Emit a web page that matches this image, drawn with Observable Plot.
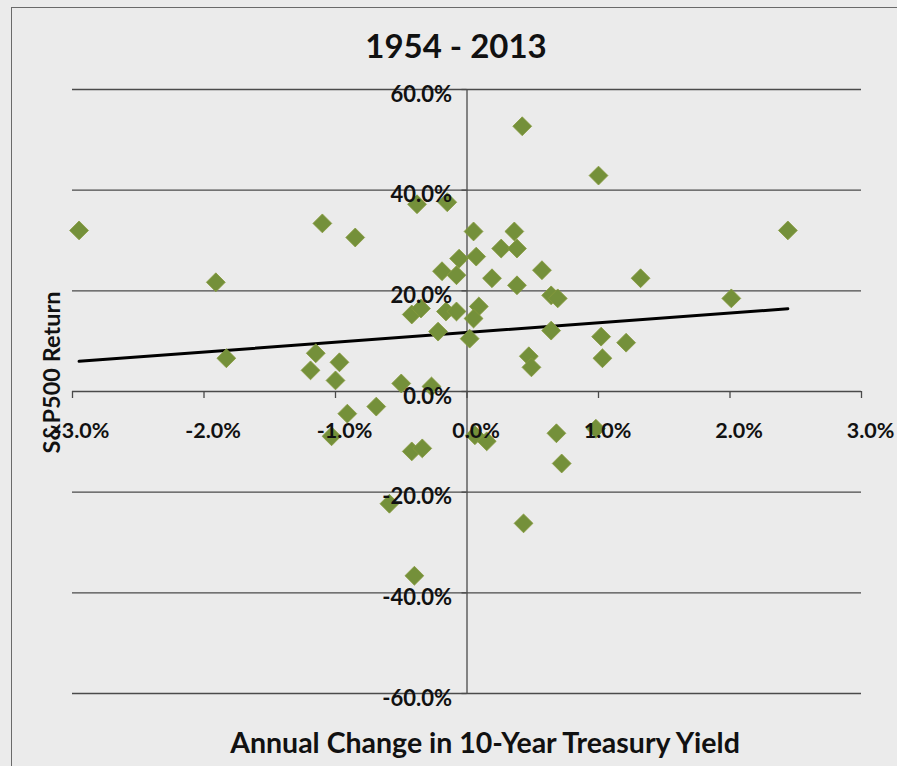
<!DOCTYPE html>
<html>
<head>
<meta charset="utf-8">
<script src="https://cdn.jsdelivr.net/npm/d3@7"></script>
<script src="https://cdn.jsdelivr.net/npm/@observablehq/plot@0.6"></script>
<style>
  html, body { margin: 0; padding: 0; background: #ebebeb; }
  #wrap { position: relative; width: 897px; height: 766px; overflow: hidden; background: #ebebeb; font-family: Lato, "Open Sans", sans-serif; }
  #border { position: absolute; left: 11px; top: 7px; width: 1000px; height: 1000px; border: 1.5px solid #6a6a6a; box-sizing: border-box; }
  #title { position: absolute; left: 0; width: 912px; top: 24px; text-align: center; font-weight: 700; font-size: 33px; color: #111; line-height: 42px; }
  #chart { position: absolute; left: 0; top: 70px; }
  #xtitle { position: absolute; left: 0; width: 970px; top: 724px; text-align: center; font-weight: 700; font-size: 28.5px; color: #111; line-height: 36px; }
</style>
</head>
<body>
<div id="wrap">
  <div id="border"></div>
  <div id="title"></div>
  <div id="chart"></div>
  <div id="xtitle"></div>
</div>
<script>
// Data (percent units)
const yieldChange = [
  -2.95, -1.91, -1.83, -1.10, -0.85, -1.15, -1.19, -0.97, -1.00, -0.91,
  -1.03, -0.69, -0.50, -0.59, -0.40, -0.42, -0.34, -0.38, -0.15, -0.42,
  -0.35, -0.16, -0.08, -0.22, 0.09, 0.05, 0.02, 0.19, 0.38, 0.57,
  0.64, 0.69, 0.64, 0.47, 0.49, -0.27, 0.06, 0.15, 0.68, 0.72,
  0.98, 0.43, 0.42, 0.05, 0.36, 0.26, 0.38, 0.07, -0.06, -0.19,
  -0.08, 1.00, 2.44, 1.32, 2.01, 1.02, 1.21, 1.03
];
const spReturn = [
  32.0, 21.7, 6.6, 33.4, 30.6, 7.6, 4.2, 5.8, 2.2, -4.4,
  -8.9, -3.0, 1.6, -22.3, -36.6, -11.9, -11.3, 37.2, 37.6, 15.3,
  16.5, 15.9, 15.9, 11.9, 16.9, 14.5, 10.5, 22.5, 21.1, 24.1,
  19.1, 18.5, 12.1, 7.0, 4.8, 1.0, -8.7, -9.9, -8.3, -14.3,
  -7.4, -26.2, 52.7, 31.8, 31.8, 28.4, 28.4, 26.8, 26.4, 23.9,
  23.1, 42.9, 32.0, 22.5, 18.5, 10.9, 9.7, 6.6
];
const xTicks = [-3, -2, -1, 0, 1, 2, 3];
const yTicks = [-60, -40, -20, 0, 20, 40, 60];
const titleText = "1954 - 2013";
const xLabel = "Annual Change in 10-Year Treasury Yield";
const yLabel = "S&P500 Return";

const points = yieldChange.map((x, i) => ({x, y: spReturn[i]}));
const fmt = d => d.toFixed(1) + "%";

document.getElementById("title").textContent = titleText;
document.getElementById("xtitle").textContent = xLabel;

const ink = "#111";
const gridColor = "#4a4a4a";

const plot = Plot.plot({
  width: 897,
  height: 645,
  marginLeft: 72,
  marginRight: 36,
  marginTop: 19,
  marginBottom: 22,
  x: {domain: [-3, 3], axis: null},
  y: {domain: [-60, 60], axis: null},
  style: {background: "transparent", fontFamily: "Lato, 'Open Sans', sans-serif"},
  marks: [
    Plot.ruleY(yTicks, {stroke: gridColor, strokeWidth: 1.3}),
    Plot.ruleY(yTicks, {x1: 0, x2: 0, insetLeft: -5, stroke: gridColor, strokeWidth: 1.3}),
    Plot.ruleX([0], {stroke: gridColor, strokeWidth: 1.3}),
    Plot.ruleX(xTicks, {y1: 0, y2: 0, insetBottom: -7, stroke: gridColor, strokeWidth: 1.3}),
    Plot.linearRegressionY(points, {x: "x", y: "y", stroke: "#000", strokeWidth: 3, ci: 0, dy: 3}),
    Plot.dot(points, {x: "x", y: "y", symbol: "diamond2", r: 8.5, fill: "#74903a", stroke: "#86993c", strokeWidth: 0.8}),
    Plot.text(yTicks, {x: 0, y: d => d, text: fmt, textAnchor: "end", dx: -15, dy: 5, fontSize: 22, fontWeight: 700, fill: ink}),
    Plot.text(xTicks, {x: d => d, y: 0, text: fmt, dx: 9, dy: 40, fontSize: 21.5, fontWeight: 700, fill: ink}),
    Plot.text([yLabel], {frameAnchor: "left", textAnchor: "middle", text: d => d, rotate: -90, dx: -20, dy: -19, fontSize: 23.5, fontWeight: 700, fill: ink})
  ]
});
document.getElementById("chart").appendChild(plot);
</script>
</body>
</html>
